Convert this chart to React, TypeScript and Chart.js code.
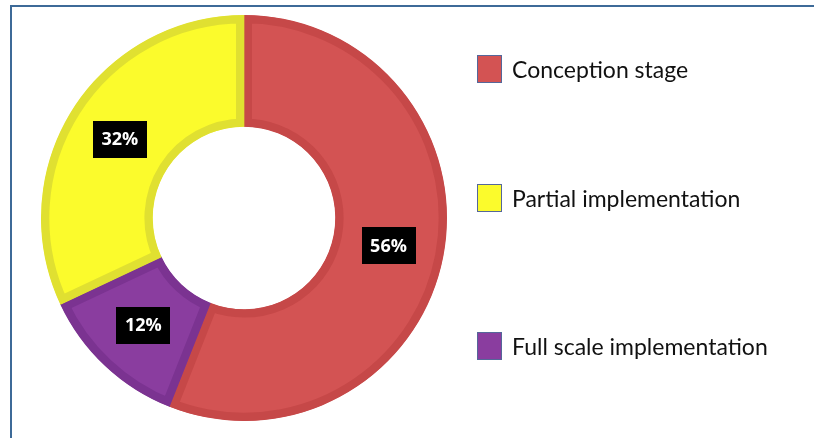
import React, { useEffect, useRef } from "react";
import { Chart, registerables } from "chart.js";

Chart.register(...registerables);

// Legend order
const categories = ["Conception stage", "Partial implementation", "Full scale implementation"];
const shares = [56, 32, 12];
const fillColors = ["#d35353", "#fbfb2c", "#8a3d9f"];
const edgeColors = ["#c64848", "#e0e031", "#7b3391"];
// Clockwise drawing order from 12 o'clock
const drawOrder = [0, 2, 1];
// Vertical centres of the legend rows
const legendRows = [69, 198, 346];

const valueBoxes = {
  id: "valueBoxes",
  afterDatasetsDraw(chart: any) {
    const ctx = chart.ctx;
    const meta = chart.getDatasetMeta(0);
    const ds = chart.data.datasets[0];
    ctx.save();
    ctx.font = "bold 18px 'Open Sans', sans-serif";
    ctx.textAlign = "center";
    ctx.textBaseline = "middle";
    meta.data.forEach((arc: any, i: number) => {
      const p = arc.getCenterPoint();
      const w = 54;
      const h = 37;
      ctx.fillStyle = "#000";
      ctx.fillRect(Math.round(p.x - w / 2), Math.round(p.y - h / 2), w, h);
      ctx.fillStyle = "#fff";
      ctx.fillText(ds.data[i] + "%", p.x, p.y + 1);
    });
    ctx.restore();
  },
};

export default function App() {
  const ref = useRef<HTMLCanvasElement | null>(null);

  useEffect(() => {
    if (!ref.current) return;
    const chart = new Chart(ref.current, {
      type: "doughnut",
      data: {
        labels: drawOrder.map((i) => categories[i]),
        datasets: [
          {
            data: drawOrder.map((i) => shares[i]),
            backgroundColor: drawOrder.map((i) => fillColors[i]),
            borderColor: drawOrder.map((i) => edgeColors[i]),
            borderWidth: 8,
            borderAlign: "inner",
            hoverOffset: 0,
          },
        ],
      },
      options: {
        animation: false,
        responsive: false,
        radius: 203,
        cutout: 98,
        layout: { padding: 0 },
        plugins: {
          legend: { display: false },
          tooltip: { enabled: false },
        },
      } as any,
      plugins: [valueBoxes],
    });
    return () => chart.destroy();
  }, []);

  return (
    <div
      style={{
        position: "absolute",
        left: 0,
        top: 0,
        width: 814,
        height: 438,
        background: "#fff",
        overflow: "hidden",
      }}
    >
      <div
        style={{
          position: "absolute",
          left: 10,
          top: 5,
          width: 820,
          height: 450,
          borderLeft: "2px solid #3d6a98",
          borderTop: "2px solid #3d6a98",
        }}
      />
      <canvas
        ref={ref}
        width={488}
        height={436}
        style={{ position: "absolute", left: 0, top: 0 }}
      />
      {categories.map((c, i) => (
        <div
          key={c}
          style={{
            position: "absolute",
            left: 477,
            top: legendRows[i] - 14,
            height: 28,
            display: "flex",
            alignItems: "center",
            fontFamily: "Lato, 'Open Sans', sans-serif",
            fontSize: 23,
            color: "#111",
            whiteSpace: "nowrap",
          }}
        >
          <span
            style={{
              display: "inline-block",
              width: 23,
              height: 26,
              background: fillColors[i],
              border: "1px solid #55679a",
              marginRight: 10,
            }}
          />
          {c}
        </div>
      ))}
    </div>
  );
}
